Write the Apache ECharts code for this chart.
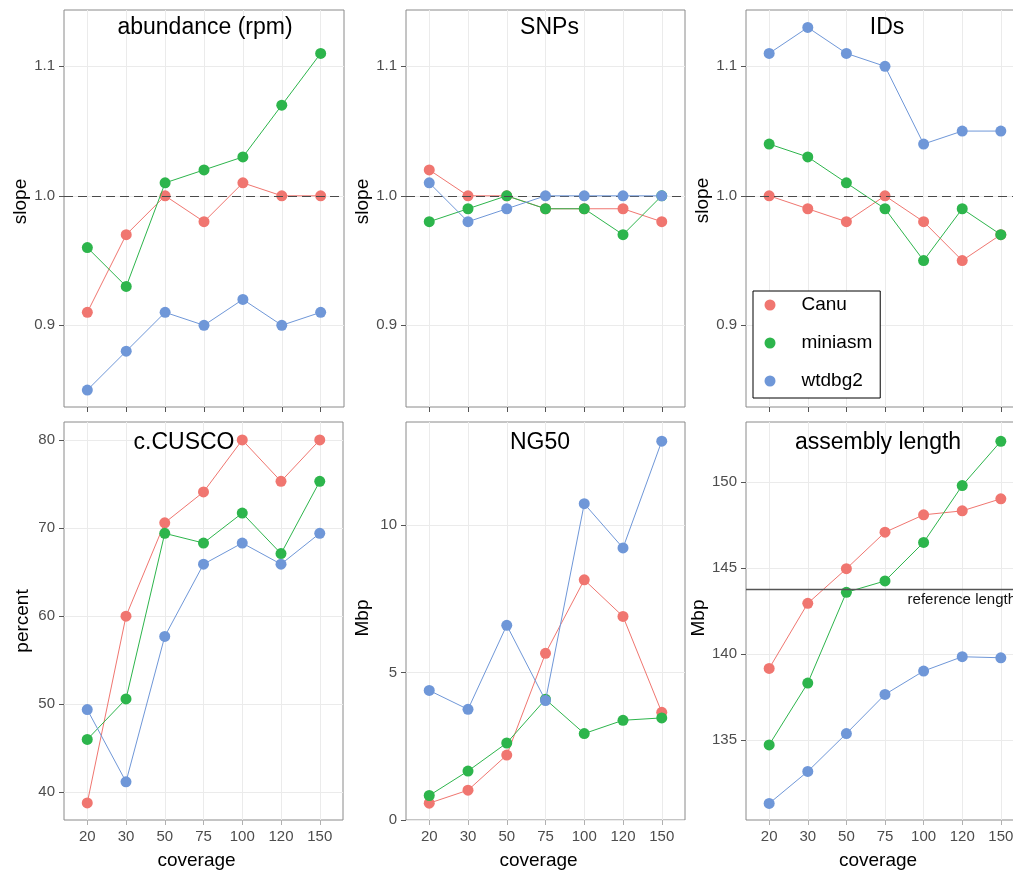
<!DOCTYPE html>
<html>
<head>
<meta charset="utf-8">
<script src="https://cdn.jsdelivr.net/npm/echarts@6/dist/echarts.min.js"></script>
<style>
html,body{margin:0;padding:0;background:#fff;}
#chart{width:1013px;height:873px;}
</style>
</head>
<body>
<div id="chart"></div>
<script>
// ---------------- data ----------------
const coverage = ['20', '30', '50', '75', '100', '120', '150'];
const assemblers = ['Canu', 'miniasm', 'wtdbg2'];

const abundanceCanu    = [0.91, 0.97, 1.00, 0.98, 1.01, 1.00, 1.00];
const abundanceMiniasm = [0.96, 0.93, 1.01, 1.02, 1.03, 1.07, 1.11];
const abundanceWtdbg2  = [0.85, 0.88, 0.91, 0.90, 0.92, 0.90, 0.91];

const snpsCanu    = [1.02, 1.00, 1.00, 0.99, 0.99, 0.99, 0.98];
const snpsMiniasm = [0.98, 0.99, 1.00, 0.99, 0.99, 0.97, 1.00];
const snpsWtdbg2  = [1.01, 0.98, 0.99, 1.00, 1.00, 1.00, 1.00];

const idsCanu    = [1.00, 0.99, 0.98, 1.00, 0.98, 0.95, 0.97];
const idsMiniasm = [1.04, 1.03, 1.01, 0.99, 0.95, 0.99, 0.97];
const idsWtdbg2  = [1.11, 1.13, 1.11, 1.10, 1.04, 1.05, 1.05];

const buscoCanu    = [38.8, 60.0, 70.6, 74.1, 80.0, 75.3, 80.0];
const buscoMiniasm = [46.0, 50.6, 69.4, 68.3, 71.7, 67.1, 75.3];
const buscoWtdbg2  = [49.4, 41.2, 57.7, 65.9, 68.3, 65.9, 69.4];

const ng50Canu    = [0.57, 1.01, 2.20, 5.65, 8.14, 6.90, 3.65];
const ng50Miniasm = [0.83, 1.66, 2.61, 4.09, 2.93, 3.38, 3.46];
const ng50Wtdbg2  = [4.39, 3.75, 6.60, 4.05, 10.72, 9.22, 12.84];

const lengthCanu    = [139.17, 142.95, 144.96, 147.08, 148.09, 148.32, 149.02];
const lengthMiniasm = [134.73, 138.32, 143.59, 144.25, 146.49, 149.79, 152.36];
const lengthWtdbg2  = [131.33, 133.19, 135.39, 137.66, 139.02, 139.85, 139.79];

const slopeReference = 1.0;
const referenceLength = 143.75;
const referenceLabel = 'reference length';

const slopeTicks = [0.9, 1.0, 1.1];
const slopeTickLabels = ['0.9', '1.0', '1.1'];
const buscoTicks = [40, 50, 60, 70, 80];
const buscoTickLabels = ['40', '50', '60', '70', '80'];
const ng50Ticks = [0, 5, 10];
const ng50TickLabels = ['0', '5', '10'];
const lengthTicks = [135, 140, 145, 150];
const lengthTickLabels = ['135', '140', '145', '150'];

// ---------------- styling / layout ----------------
const FONT = '"Liberation Sans", Arial, Helvetica, sans-serif';
const seriesColors = ['#F07670', '#2DB54C', '#6F97D8'];
const GRID_COLOR = '#EBEBEB';
const BORDER_COLOR = '#8A8A8A';
const TICK_LABEL_COLOR = '#4D4D4D';

const panels = [
  { title: 'abundance (rpm)', yName: 'slope', data: [abundanceCanu, abundanceMiniasm, abundanceWtdbg2],
    ticks: slopeTicks, labels: slopeTickLabels, hline: slopeReference, dashed: true,
    grid: { left: 64, top: 10, width: 280, height: 397 }, ymin: 0.8369, ymax: 1.1435, step: 0.05,
    bottom: false, titleX: 205, titleY: 27.5, nameGap: 31.5, nameShift: 7 },
  { title: 'SNPs', yName: 'slope', data: [snpsCanu, snpsMiniasm, snpsWtdbg2],
    ticks: slopeTicks, labels: slopeTickLabels, hline: slopeReference, dashed: true,
    grid: { left: 406, top: 10, width: 279, height: 397 }, ymin: 0.8369, ymax: 1.1435, step: 0.05,
    bottom: false, titleX: 549.5, titleY: 27.5, nameGap: 33.5, nameShift: 7 },
  { title: 'IDs', yName: 'slope', data: [idsCanu, idsMiniasm, idsWtdbg2],
    ticks: slopeTicks, labels: slopeTickLabels, hline: slopeReference, dashed: true,
    grid: { left: 746, top: 10, width: 278, height: 397 }, ymin: 0.8369, ymax: 1.1435, step: 0.05,
    bottom: false, titleX: 887, titleY: 27.5, nameGap: 33.5, nameShift: 8 },
  { title: 'c.CUSCO', yName: 'percent', data: [buscoCanu, buscoMiniasm, buscoWtdbg2],
    ticks: buscoTicks, labels: buscoTickLabels, hline: null,
    grid: { left: 64, top: 422, width: 279, height: 398 }, ymin: 36.86, ymax: 82.04, step: 5,
    bottom: true, titleX: 184, titleY: 442.5, nameGap: 31.5, nameShift: 0 },
  { title: 'NG50', yName: 'Mbp', data: [ng50Canu, ng50Miniasm, ng50Wtdbg2],
    ticks: ng50Ticks, labels: ng50TickLabels, hline: null,
    grid: { left: 406, top: 422, width: 279, height: 398 }, ymin: 0, ymax: 13.49, step: 2.5,
    bottom: true, titleX: 540, titleY: 442.5, nameGap: 34, nameShift: 3 },
  { title: 'assembly length', yName: 'Mbp', data: [lengthCanu, lengthMiniasm, lengthWtdbg2],
    ticks: lengthTicks, labels: lengthTickLabels, hline: referenceLength, dashed: false,
    grid: { left: 746, top: 422, width: 278, height: 398 }, ymin: 130.37, ymax: 153.48, step: 2.5,
    bottom: true, titleX: 878, titleY: 442.5, nameGap: 31.5, nameShift: 3 }
];

const catIdx = coverage.map((_, k) => k);

const grids = [], xAxes = [], yAxes = [], series = [], graphics = [];

panels.forEach((p, i) => {
  grids.push(Object.assign({
    show: true, borderColor: BORDER_COLOR, borderWidth: 1, backgroundColor: '#fff',
    containLabel: false, outerBoundsMode: 'none'
  }, p.grid));

  xAxes.push({
    type: 'value', gridIndex: i, position: 'bottom', min: -0.6, max: coverage.length - 0.4,
    minInterval: 1, maxInterval: 1,
    axisLine: { show: false, onZero: false },
    axisTick: { show: true, inside: false, length: 5, customValues: catIdx,
      lineStyle: { color: p.bottom ? '#B0B0B0' : '#555', width: 1 } },
    axisLabel: { show: p.bottom, customValues: catIdx, margin: 9,
      formatter: v => coverage[Math.round(v)], fontSize: 15, color: TICK_LABEL_COLOR, fontFamily: FONT },
    splitLine: { show: true, lineStyle: { color: GRID_COLOR, width: 1 } },
    name: p.bottom ? 'coverage' : '', nameLocation: 'middle', nameGap: 31.5,
    nameTextStyle: { fontSize: 19, color: '#000', fontFamily: FONT, padding: [0, 14, 0, 0] }
  });

  yAxes.push({
    type: 'value', gridIndex: i, position: 'left', min: p.ymin, max: p.ymax,
    minInterval: p.step, maxInterval: p.step,
    axisLine: { show: false, onZero: false },
    axisTick: { show: true, inside: false, length: 5, customValues: p.ticks, lineStyle: { color: '#555', width: 1 } },
    axisLabel: { show: true, customValues: p.ticks, margin: 9, fontSize: 15, color: TICK_LABEL_COLOR, fontFamily: FONT,
      formatter: v => { const k = p.ticks.findIndex(t => Math.abs(t - v) < 1e-9); return k < 0 ? '' : p.labels[k]; } },
    splitLine: { show: true, lineStyle: { color: GRID_COLOR, width: 1 } },
    name: p.yName, nameLocation: 'middle', nameGap: p.nameGap,
    nameTextStyle: { fontSize: 19, color: '#000', fontFamily: FONT, padding: [0, 0, 0, p.nameShift * 2] }
  });

  p.data.forEach((arr, j) => {
    series.push({
      type: 'line', name: assemblers[j], xAxisIndex: i, yAxisIndex: i,
      data: arr.map((v, k) => [k, v]),
      symbol: 'circle', symbolSize: 11, showSymbol: true, clip: false,
      lineStyle: { width: 1, color: seriesColors[j] },
      itemStyle: { color: seriesColors[j], borderWidth: 0 },
      emphasis: { disabled: true }, silent: true, z: 3 + j, animation: false
    });
  });

  if (p.hline !== null) {
    series.push({
      type: 'line', name: 'ref' + i, xAxisIndex: i, yAxisIndex: i, data: [], z: 8, silent: true,
      markLine: {
        silent: true, symbol: 'none', animation: false,
        data: [{ yAxis: p.hline }],
        lineStyle: p.dashed ? { type: [9, 5], color: '#4A4A4A', width: 1.1 } : { type: 'solid', color: '#555', width: 1.4 },
        label: p.dashed ? { show: false } : {
          show: true, position: 'insideEndBottom', formatter: referenceLabel, distance: [8, 3],
          fontSize: 15, color: '#111', fontFamily: FONT
        },
        emphasis: { disabled: true }
      }
    });
  }

  graphics.push({
    type: 'text', x: p.titleX, y: p.titleY, z: 20,
    style: { text: p.title, fontSize: 23, fontFamily: FONT, fill: '#000',
      align: 'center', verticalAlign: 'middle', textAlign: 'center', textVerticalAlign: 'middle' }
  });
});

const option = {
  animation: false,
  backgroundColor: '#fff',
  textStyle: { fontFamily: FONT },
  grid: grids,
  xAxis: xAxes,
  yAxis: yAxes,
  series: series,
  graphic: { elements: graphics },
  legend: {
    data: assemblers, orient: 'vertical', left: 753, top: 291, z: 30,
    icon: 'circle', itemWidth: 11, itemHeight: 11, itemGap: 19,
    padding: [4.5, 8, 7.5, 11.5],
    borderColor: '#000', borderWidth: 1, backgroundColor: '#fff',
    selectedMode: false,
    itemStyle: { borderWidth: 0 },
    textStyle: { fontSize: 19, color: '#000', fontFamily: FONT, padding: [0, 0, 0, 21] }
  }
};

const chart = echarts.init(document.getElementById('chart'), null, { renderer: 'canvas' });
chart.setOption(option);
</script>
</body>
</html>
